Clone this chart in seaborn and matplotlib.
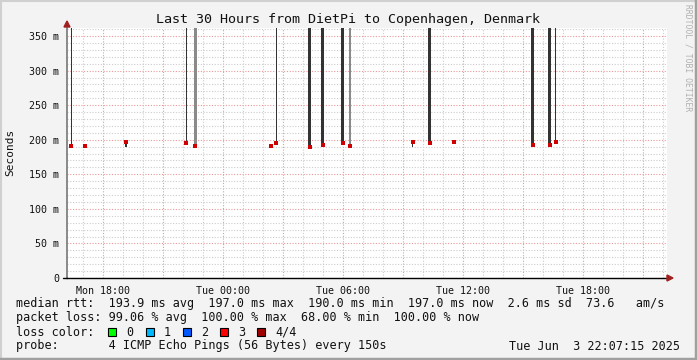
import matplotlib
matplotlib.use("Agg")
import matplotlib.pyplot as plt
import seaborn as sns
import pandas as pd
from matplotlib.ticker import MultipleLocator, FuncFormatter
from matplotlib.patches import Rectangle, Polygon
from matplotlib.lines import Line2D

# ---------------- data (time = hours since Mon 00:00) ----------------
median_times = [16.40, 17.09, 19.15, 22.15, 22.60, 26.39, 26.65, 28.34, 28.99,
                29.99, 30.35, 33.49, 34.34, 35.57, 39.49, 40.34, 40.64]
median_rtt_ms = [191.0, 191.4, 196.7, 195.7, 191.4, 191.0, 195.7, 190.0, 192.8,
                 195.7, 191.4, 196.7, 194.8, 196.7, 191.9, 192.8, 196.7]

smoke_times = [16.40, 22.15, 22.60, 26.65, 28.34, 28.99, 29.99, 30.35,
               34.34, 39.49, 40.34, 40.64]
smoke_low_ms = [191.0, 195.7, 191.4, 195.7, 190.0, 192.8, 195.7, 191.4,
                194.8, 191.9, 192.8, 196.7]
smoke_high_ms = [420, 420, 420, 420, 420, 420, 420, 420, 420, 420, 420, 420]
smoke_minutes = [3, 3, 9, 3, 9, 9, 9, 9, 9, 9, 9, 3]
smoke_shade = ["dark", "dark", "light", "dark", "dark", "dark", "dark", "light",
               "dark", "dark", "dark", "dark"]

short_times = [19.15, 33.49]
short_low_ms = [189.5, 189.5]
short_high_ms = [196.7, 196.7]

x_start, x_end = 16.2, 46.2
y_max = 361.6
x_tick_hours = [18, 24, 30, 36, 42]
x_tick_labels = ["Mon 18:00", "Tue 00:00", "Tue 06:00", "Tue 12:00", "Tue 18:00"]

legend_rtt = "median rtt:  193.9 ms avg  197.0 ms max  190.0 ms min  197.0 ms now  2.6 ms sd  73.6   am/s"
legend_loss = "packet loss: 99.06 % avg  100.00 % max  68.00 % min  100.00 % now"
loss_labels = ["0", "1", "2", "3", "4/4"]
loss_colors = ["#00ff00", "#00b8ff", "#0059ff", "#ff0000", "#a00000"]
probe_text = "probe:       4 ICMP Echo Pings (56 Bytes) every 150s"
date_text = "Tue Jun  3 22:07:15 2025"
title = "Last 30 Hours from DietPi to Copenhagen, Denmark"

# ---------------- figure ----------------
sns.set_style("white")
MONO = ["DejaVu Sans Mono"]
plt.rcParams["font.family"] = MONO

W, H = 697, 360
fig = plt.figure(figsize=(W / 100, H / 100), dpi=100)
fig.patch.set_facecolor("#f3f3f3")


def fx(x):
    return x / W


def fy(y):
    return 1 - y / H


ax = fig.add_axes([fx(67), fy(278), 600 / W, 250 / H])
ax.set_facecolor("white")
ax.set_xlim(x_start, x_end)
ax.set_ylim(0, y_max)

# grid
ax.xaxis.set_major_locator(MultipleLocator(3))
ax.xaxis.set_minor_locator(MultipleLocator(1))
ax.yaxis.set_major_locator(MultipleLocator(50))
ax.yaxis.set_minor_locator(MultipleLocator(10))
ax.grid(which="minor", color="#cccccc", linestyle=(0, (1, 1.5)), linewidth=0.8)
ax.grid(which="major", color="#e89a9a", linestyle=(0, (1, 1.5)), linewidth=0.8)
ax.set_axisbelow(True)

lab = dict(zip(x_tick_hours, x_tick_labels))
ax.xaxis.set_major_formatter(FuncFormatter(lambda v, p: lab.get(int(round(v)), "")))
ax.yaxis.set_major_formatter(FuncFormatter(lambda v, p: "0" if v == 0 else f"{int(v)} m"))
ax.tick_params(axis="both", which="major", labelsize=7.2, length=2.5, width=0.8,
               color="#444444", pad=3, labelcolor="#111111")
ax.tick_params(axis="both", which="minor", length=0)

for s in ["top", "right"]:
    ax.spines[s].set_visible(False)
ax.spines["left"].set_color("#777777")
ax.spines["left"].set_linewidth(1.2)
ax.spines["bottom"].set_color("black")
ax.spines["bottom"].set_linewidth(1.0)

# smoke spikes
dark, light = "#333333", "#8a8a8a"
for t, lo, hi, m, sh in zip(smoke_times, smoke_low_ms, smoke_high_ms, smoke_minutes, smoke_shade):
    ax.bar(t, hi - lo, bottom=lo, width=m / 60.0, color=dark if sh == "dark" else light,
           linewidth=0, align="center", zorder=3)
for t, lo, hi in zip(short_times, short_low_ms, short_high_ms):
    ax.bar(t, hi - lo, bottom=lo, width=4 / 60.0, color=dark, linewidth=0, zorder=3)

# medians
df = pd.DataFrame({"time": median_times, "rtt": median_rtt_ms})
sns.scatterplot(data=df, x="time", y="rtt", ax=ax, marker="s", s=5.5, color="#d00000",
                linewidth=0, zorder=4, legend=False)
ax.set_xlabel("")
ax.set_ylabel("")

# axis extensions and arrows
fig.add_artist(Line2D([fx(63), fx(67)], [fy(278), fy(278)], color="black", lw=1.0))
fig.add_artist(Polygon([[fx(667), fy(275)], [fx(673), fy(278)], [fx(667), fy(281)]],
                       closed=True, color="#a02020", transform=fig.transFigure))
fig.add_artist(Polygon([[fx(64), fy(27)], [fx(67), fy(21)], [fx(70), fy(27)]],
                       closed=True, color="#a02020", transform=fig.transFigure))

# texts
fig.text(fx(348), fy(19), title, ha="center", va="center", fontsize=9.6, color="#111111")
fig.text(fx(10), fy(152), "Seconds", ha="center", va="center", rotation=90, fontsize=8,
         color="#111111")
fig.text(fx(688), fy(4), "RRDTOOL / TOBI OETIKER", ha="center", va="top", rotation=270,
         fontsize=5.8, color="#b0b0b0")

fs = 8.5
fig.text(fx(16), fy(304), legend_rtt, ha="left", va="center", fontsize=fs, color="#111111")
fig.text(fx(16), fy(318), legend_loss, ha="left", va="center", fontsize=fs, color="#111111")
fig.text(fx(16), fy(332), "loss color:", ha="left", va="center", fontsize=fs, color="#111111")
box_x = [108, 146, 183, 220, 257]
for bx, lbl, c in zip(box_x, loss_labels, loss_colors):
    fig.add_artist(Rectangle((fx(bx), fy(336)), 8 / W, 8 / H, facecolor=c,
                             edgecolor="black", linewidth=0.8, transform=fig.transFigure))
    fig.text(fx(bx + 18), fy(332), lbl, ha="left", va="center", fontsize=fs, color="#111111")
fig.text(fx(16), fy(346), probe_text, ha="left", va="center", fontsize=fs, color="#111111")
fig.text(fx(680), fy(346), date_text, ha="right", va="center", fontsize=fs, color="#111111")

# figure border (3D look)
fig.add_artist(Line2D([0, 1], [fy(0.5), fy(0.5)], color="#d0d0d0", lw=1.5))
fig.add_artist(Line2D([fx(0.5), fx(0.5)], [0, 1], color="#d0d0d0", lw=1.5))
fig.add_artist(Line2D([0, 1], [fy(359), fy(359)], color="#a0a0a0", lw=2.5))
fig.add_artist(Line2D([fx(696), fx(696)], [0, 1], color="#a0a0a0", lw=2.5))

fig.savefig("out.png", dpi=100, facecolor=fig.get_facecolor())
